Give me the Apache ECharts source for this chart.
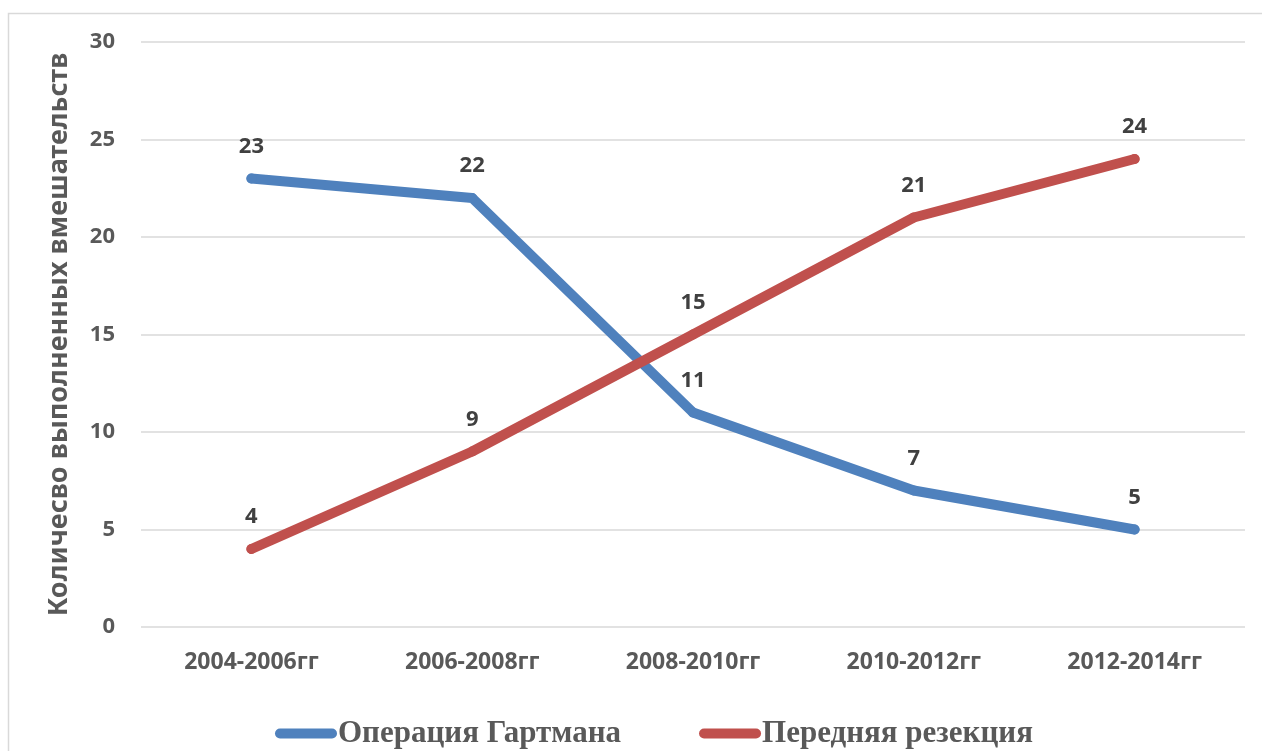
<!DOCTYPE html>
<html>
<head>
<meta charset="utf-8">
<script src="https://cdn.jsdelivr.net/npm/echarts@6/dist/echarts.min.js"></script>
<style>
  html, body { margin: 0; padding: 0; background: #fff; }
  #chart { width: 1262px; height: 751px; }
</style>
</head>
<body>
<div id="chart"></div>
<script>
const categories = ["2004-2006гг", "2006-2008гг", "2008-2010гг", "2010-2012гг", "2012-2014гг"];
const hartmann = [23, 22, 11, 7, 5];
const resection = [4, 9, 15, 21, 24];
const seriesNames = ["Операция Гартмана", "Передняя резекция"];
const yAxisTitle = "Количесво выполненных вмешательств";

const chart = echarts.init(document.getElementById("chart"));

const legendIcon = "path://M5,0 H57 A5,5 0 0 1 57,10 H5 A5,5 0 0 1 5,0 Z";
const labelStyle = {
  show: true,
  position: "top",
  distance: 16,
  fontFamily: "Noto Sans",
  fontWeight: "bold",
  fontSize: 22,
  color: "#404040",
};

const option = {
  animation: false,
  backgroundColor: "#fff",
  // рамка вокруг области диаграммы
  graphic: [{
    type: "rect",
    silent: true,
    shape: { x: 8.5, y: 13.5, width: 1300, height: 800 },
    style: { fill: "none", stroke: "#d9d9d9", lineWidth: 1.5 },
  }],
  grid: { left: 141, right: 17, top: 42, bottom: 124 },
  legend: {
    top: 713,
    left: 270,
    itemWidth: 64,
    itemHeight: 10,
    itemGap: 78,
    textStyle: {
      fontFamily: "Liberation Serif",
      fontWeight: "bold",
      fontSize: 31,
      color: "#595959",
      padding: [0, 0, 0, -5],
    },
    data: [
      { name: seriesNames[0], icon: legendIcon },
      { name: seriesNames[1], icon: legendIcon },
    ],
  },
  xAxis: {
    type: "category",
    data: categories,
    boundaryGap: true,
    axisLine: { show: false },
    axisTick: { show: false },
    axisLabel: {
      margin: 24,
      fontFamily: "Noto Sans",
      fontWeight: "bold",
      fontSize: 23,
      color: "#595959",
    },
  },
  yAxis: {
    type: "value",
    min: 0,
    max: 30,
    interval: 5,
    name: yAxisTitle,
    nameLocation: "middle",
    nameGap: 68,
    nameTextStyle: {
      fontFamily: "Noto Sans",
      fontWeight: "bold",
      fontSize: 27,
      color: "#595959",
    },
    axisLabel: {
      margin: 26,
      fontFamily: "Noto Sans",
      fontWeight: "bold",
      fontSize: 22,
      color: "#595959",
    },
    splitLine: { lineStyle: { color: "#d9d9d9", width: 1.5 } },
  },
  series: [
    {
      name: seriesNames[0],
      type: "line",
      data: hartmann,
      symbol: "circle",
      symbolSize: 10,
      color: "#4f81bd",
      lineStyle: { color: "#4f81bd", width: 10, cap: "round", join: "round" },
      label: labelStyle,
    },
    {
      name: seriesNames[1],
      type: "line",
      data: resection,
      symbol: "circle",
      symbolSize: 10,
      color: "#c0504d",
      lineStyle: { color: "#c0504d", width: 10, cap: "round", join: "round" },
      label: labelStyle,
    },
  ],
};

chart.setOption(option);
</script>
</body>
</html>
